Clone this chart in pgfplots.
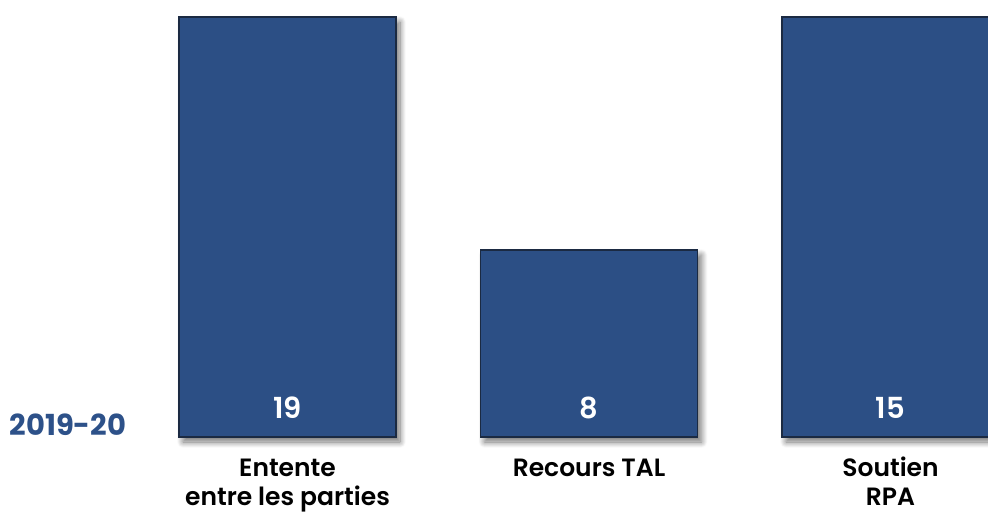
\documentclass[border=0pt]{standalone}
\usepackage{fontspec}
\setmainfont{Poppins}
\newfontfamily\psemi{Poppins SemiBold}
\usepackage{pgfplots}
\pgfplotsset{compat=1.18}
\usetikzlibrary{shadows.blur}
\definecolor{barblue}{HTML}{2C4F85}
\definecolor{bardark}{HTML}{1B2A42}
\definecolor{yearblue}{HTML}{2D5189}
\begin{document}
\begin{tikzpicture}
\useasboundingbox (0,0) rectangle (988pt,512pt);
\clip (0,0) rectangle (988pt,512pt);
\begin{axis}[
  at={(0pt,75pt)}, anchor=south west,
  scale only axis, width=988pt, height=437pt,
  xmin=-0.9536, xmax=2.3234, ymin=0, ymax=19.77,
  axis x line*=bottom, axis y line=none, x axis line style={draw=none},
  major tick length=0pt, tick style={draw=none},
  clip=false,
  ybar, bar width=217pt,
  xtick={0,1,2},
  xticklabels={{\strut Entente\\entre les parties},{\strut Recours TAL},{\strut Soutien\\RPA}},
  xticklabel style={align=center, font=\psemi\fontsize{25}{29}\selectfont, anchor=north, yshift=-16pt},
]
\addplot[bar shift=0pt, fill=barblue, draw=bardark, line width=1.2pt,
  blur shadow={shadow xshift=4pt, shadow yshift=-5pt, shadow blur radius=6pt, shadow blur steps=12, shadow opacity=55}]
  coordinates {(0,19) (1,8.46) (2,19)};
\addplot[bar shift=0pt, draw=none, fill=none, point meta=explicit symbolic,
  nodes near coords, every node near coord/.append style={anchor=center, yshift=29pt, text=white, font=\psemi\fontsize{29}{29}\selectfont}]
  coordinates {(0,0) [19] (1,0) [8] (2,0) [15]};
\end{axis}
\node[text=yearblue, font=\bfseries\fontsize{29}{29}\selectfont] at (68pt,87pt) {2019-20};
\end{tikzpicture}
\end{document}
